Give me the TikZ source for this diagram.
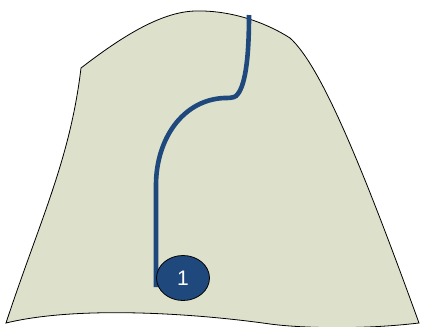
\documentclass[tikz,border=0pt]{standalone}
\usepackage{fontspec}
\setmainfont{Liberation Sans}
\usetikzlibrary{shapes.geometric}
\definecolor{sage}{HTML}{DDE1CB}
\definecolor{navy}{HTML}{1F497D}

\begin{document}
\begin{tikzpicture}[x=1pt,y=-1pt,
  route/.style={navy,line width=4.6pt},
  marker/.style={ellipse,draw=black,line width=0.8pt,fill=navy,text=white,
    minimum width=53pt,minimum height=45pt,inner sep=0pt,font=\fontsize{21}{22}\selectfont}]
\useasboundingbox (0,0) rectangle (421,327);
% region outline
\draw[fill=sage,line width=0.8pt] (81,68) .. controls (120,38) and (160,12) .. (195,11)
  .. controls (230,10) and (265,22) .. (290,38)
  .. controls (320,65) and (360,160) .. (419,323)
  .. controls (360,330) and (300,328) .. (270,324)
  .. controls (200,314) and (80,305) .. (6,323)
  .. controls (40,220) and (70,160) .. (81,68) -- cycle;
\coordinate (top) at (249,15);
\coordinate (foot) at (156,287);
% route
\draw[route] (top) .. controls (249,60) and (245,88) .. (236,96)
  .. controls (233,98) and (229,98) .. (224,98)
  .. controls (182,100) and (156,140) .. (156,185) -- (foot);
\node[marker] (n1) at (183,278) {1};
\end{tikzpicture}
\end{document}
